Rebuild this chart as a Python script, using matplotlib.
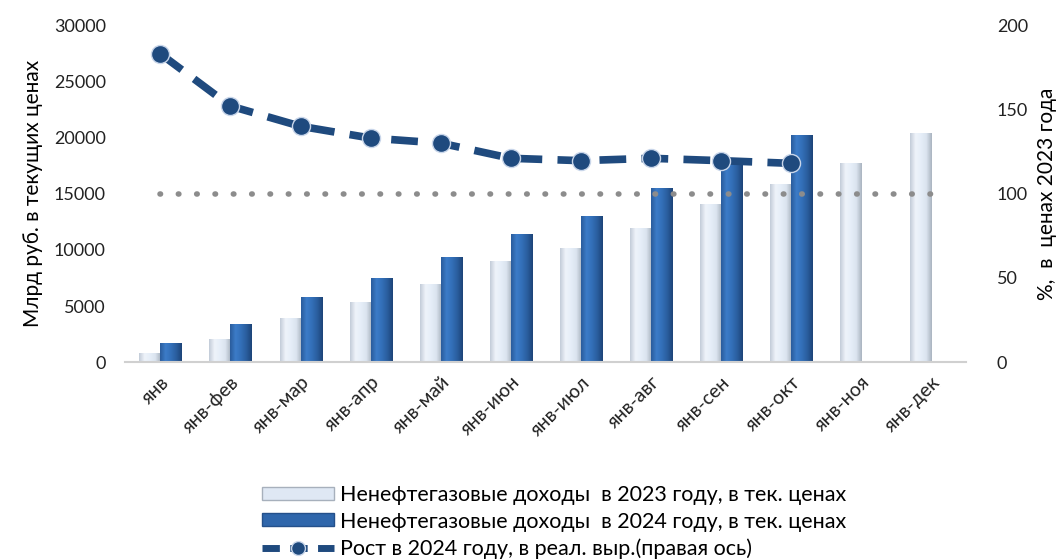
import numpy as np
import matplotlib
matplotlib.use('Agg')
import matplotlib.pyplot as plt
from matplotlib.lines import Line2D
from matplotlib.patches import Patch
from matplotlib.colors import LinearSegmentedColormap

plt.rcParams['font.family'] = ['Lato', 'DejaVu Sans']

# data
months = ['янв', 'янв-фев', 'янв-мар', 'янв-апр', 'янв-май', 'янв-июн',
          'янв-июл', 'янв-авг', 'янв-сен', 'янв-окт', 'янв-ноя', 'янв-дек']
rev_2023 = [800, 2050, 3930, 5360, 6960, 9020, 10180, 11960, 14100, 15890, 17770, 20360]
rev_2024 = [1700, 3390, 5800, 7500, 9375, 11430, 13040, 15540, 18125, 20180]
growth = [183, 152, 140, 133, 130, 121, 119.6, 121, 119.6, 118]
base_100 = [100] * 12

light = '#dfe8f4'
dark = '#2f66ab'
navy = '#1f4a7e'

light_cmap = LinearSegmentedColormap.from_list(
    'lt', ['#c3ccd8', '#eef3fa', '#e6eef8', '#dbe4ef', '#aab4c0'])
dark_cmap = LinearSegmentedColormap.from_list(
    'dk', ['#2a5c9c', '#3c7cc8', '#336fb8', '#2a5e9e', '#1d4478'])


def shade_bars(ax, bars, cmap):
    # horizontal gradient clipped to each bar, a rough 3D look
    grad = np.linspace(0, 1, 64).reshape(1, -1)
    for b in bars:
        x0, y0 = b.get_x(), b.get_y()
        im = ax.imshow(grad, cmap=cmap, aspect='auto', zorder=2.1,
                       extent=(x0, x0 + b.get_width(), y0, y0 + b.get_height()))
        im.set_clip_path(b)


fig = plt.figure(figsize=(10.62, 5.59), dpi=100)
ax = fig.add_axes([0.118, 0.352, 0.792, 0.603])
ax2 = ax.twinx()

x = np.arange(len(months))
w = 0.3
b23 = ax.bar(x[:len(rev_2023)] - w / 2, rev_2023, w, color=light,
             edgecolor='#a7b0bc', linewidth=0.6, zorder=2)
b24 = ax.bar(x[:len(rev_2024)] + w / 2, rev_2024, w, color=dark,
             edgecolor='#24508a', linewidth=0.6, zorder=2)
shade_bars(ax, b23, light_cmap)
shade_bars(ax, b24, dark_cmap)

ax2.plot(x, base_100, color='#8c8c8c', linestyle=(0, (0.1, 3.2)),
         linewidth=4, dash_capstyle='round', zorder=3)
ax2.plot(x[:len(growth)], growth, color=navy, linestyle=(0, (3.5, 2)),
         linewidth=5.5, marker='o', markersize=13, markerfacecolor=navy,
         markeredgecolor='#c9d6ea', markeredgewidth=1, zorder=4)

ax.set_xlim(-0.5, len(months) - 0.5)
ax.set_ylim(0, 30000)
ax2.set_ylim(0, 200)
ax.set_yticks(range(0, 30001, 5000))
ax2.set_yticks(range(0, 201, 50))

ax.set_xticks(x)
ax.set_xticklabels(months, rotation=45, ha='right', rotation_mode='anchor')

for a in (ax, ax2):
    for s in a.spines.values():
        s.set_visible(False)
    a.tick_params(length=0, labelsize=13, colors='#222222')
ax.spines['bottom'].set_visible(True)
ax.spines['bottom'].set_color('#d0d0d0')
ax.spines['bottom'].set_linewidth(1.5)
ax.tick_params(axis='x', pad=8, labelsize=14)
ax.tick_params(axis='y', pad=14)
ax2.tick_params(axis='y', pad=22)

ax.set_ylabel('Млрд руб. в текущих ценах', fontsize=15, labelpad=8)
ax2.set_ylabel('%,  в  ценах 2023 года', fontsize=15, labelpad=6)

handles = [
    Patch(facecolor=light, edgecolor='#a7b0bc'),
    Patch(facecolor=dark, edgecolor='#24508a'),
    Line2D([0], [0], color=navy, linestyle=(0, (2.5, 1.5)), linewidth=5,
           marker='o', markersize=10, markerfacecolor=navy,
           markeredgecolor='#c9d6ea'),
]
labels = ['Ненефтегазовые доходы  в 2023 году, в тек. ценах',
          'Ненефтегазовые доходы  в 2024 году, в тек. ценах',
          'Рост в 2024 году, в реал. выр.(правая ось)']
fig.legend(handles, labels, loc='lower center', bbox_to_anchor=(0.522, -0.034),
           frameon=False, fontsize=15.5, handlelength=3.3, handleheight=0.55,
           labelspacing=0.3, handletextpad=0.3)

fig.savefig('out.png', dpi=100)
